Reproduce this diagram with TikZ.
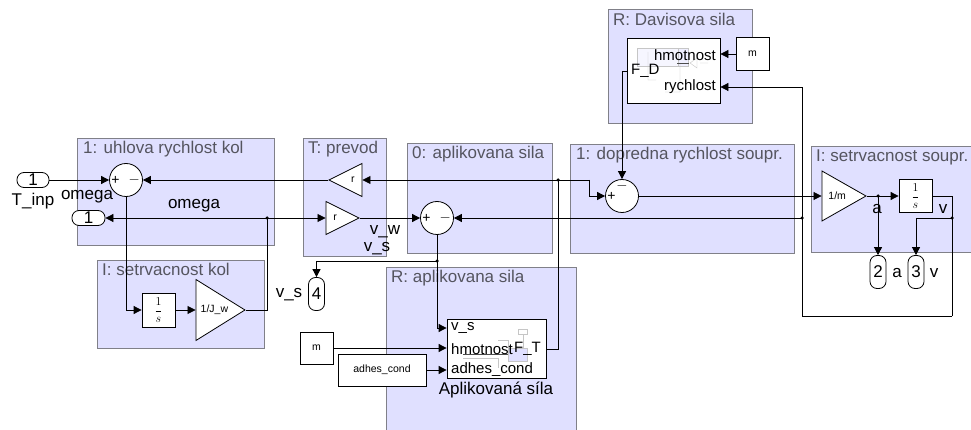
\documentclass[tikz,border=0pt]{standalone}
\usepackage{fontspec}
\setmainfont{Liberation Sans}
\usepackage{tikz}
\usetikzlibrary{arrows.meta,shapes.geometric,positioning,calc}
\definecolor{stateFill}{RGB}{224,224,255}
\definecolor{stateEdge}{RGB}{128,128,136}
\definecolor{titleGray}{RGB}{85,85,95}
\tikzset{
  sig/.style={-{Triangle[length=8pt,width=8pt]},line width=0.8pt},
  wire/.style={line width=0.8pt},
  chart/.style={draw=stateEdge,fill=stateFill,line width=0.8pt},
  chartname/.style={text=titleGray,font=\fontsize{17}{19}\selectfont,anchor=base west,inner sep=0pt},
  block/.style={draw,fill=white,line width=0.8pt,inner sep=0pt,font=\fontsize{10.5}{12}\selectfont},
  sumb/.style={draw,fill=white,circle,minimum size=33pt,inner sep=0pt,line width=0.8pt},
  gainb/.style={draw,fill=white,isosceles triangle,isosceles triangle stretches,inner sep=0pt,line width=0.8pt,font=\fontsize{10.5}{12}\selectfont},
  port/.style={draw,fill=white,rounded corners=7pt,inner sep=0pt,line width=0.8pt,font=\fontsize{17}{19}\selectfont},
  lab/.style={inner sep=0pt,font=\fontsize{17}{19}\selectfont},
  plab/.style={inner sep=0pt,font=\fontsize{15}{17}\selectfont},
  sgn/.style={inner sep=0pt,font=\fontsize{14}{16}\selectfont},
  thumb/.style={gray!45,line width=0.4pt},
  jdot/.style={fill,circle,inner sep=0pt,minimum size=3.5pt},
}
\begin{document}
\begin{tikzpicture}[x=1pt,y=-1pt]
\useasboundingbox (0,0) rectangle (971,430);
%Zustaende
\draw[chart] (77,138) rectangle (274,245);
\draw[chart] (97,260) rectangle (264,348);
\draw[chart] (303,138) rectangle (386,256);
\draw[chart] (407,143) rectangle (552,253);
\draw[chart] (570,144) rectangle (794,253);
\draw[chart] (811,146) rectangle (973,252);
\draw[chart] (608,9) rectangle (752,123);
\draw[chart] (386,267) rectangle (576,433);
\node[chartname] (nameKol) at (83,154) {1: uhlova rychlost kol};
\node[chartname] (nameSetKol) at (102,276) {I: setrvacnost kol};
\node[chartname] (namePrevod) at (308,154) {T: prevod};
\node[chartname] (nameApl) at (412,159) {0: aplikovana sila};
\node[chartname] (nameDop) at (576,160) {1: dopredna rychlost soupr.};
\node[chartname] (nameSetSoup) at (816,162) {I: setrvacnost soupr.};
\node[chartname] (nameDav) at (613,26) {R: Davisova sila};
\node[chartname] (nameRApl) at (391,283) {R: aplikovana sila};
%Bloecke
\node[port,minimum width=32pt,minimum height=15pt] (inTinp) at (33,180) {1};
\node[port,minimum width=33pt,minimum height=15pt] (outOmega) at (88.5,218) {1};
\node[port,minimum width=16pt,minimum height=33pt] (outVs) at (316.5,294) {4};
\node[port,minimum width=16pt,minimum height=33pt] (outA) at (878,272) {2};
\node[port,minimum width=16pt,minimum height=33pt] (outV) at (916,272) {3};
\node[sumb] (sumKol) at (126,180) {};
\node[sumb] (sumApl) at (437,218) {};
\node[sumb] (sumDop) at (622,196) {};
\node[block,minimum width=33pt,minimum height=34pt,font=\fontsize{12}{14}\selectfont] (intKol) at (158.5,310) {$\displaystyle\frac{1}{s}$};
\node[block,minimum width=33pt,minimum height=33pt,font=\fontsize{12}{14}\selectfont] (intSoup) at (915.5,196) {$\displaystyle\frac{1}{s}$};
\node[gainb,minimum height=49pt,minimum width=61pt,anchor=apex] (gainJw) at (246,310) {1/J\_w};
\node[gainb,minimum height=44pt,minimum width=50pt,anchor=apex] (gainM) at (867,196) {1/m};
\node[gainb,minimum height=33pt,minimum width=33pt,anchor=apex,shape border rotate=180] (gainRb) at (328,180) {r};
\node[gainb,minimum height=33pt,minimum width=33pt,anchor=apex] (gainRf) at (360,218) {r};
\node[block,minimum width=99pt,minimum height=59pt] (subApl) at (496.5,348.5) {};
\node[block,minimum width=93pt,minimum height=65pt] (subDav) at (673.5,70.5) {};
\node[block,minimum width=33pt,minimum height=32pt] (constM) at (316.5,348) {m};
\node[block,minimum width=88pt,minimum height=32pt] (constAd) at (382,370) {adhes\_cond};
\node[block,minimum width=33pt,minimum height=33pt] (constDav) at (752.5,54) {m};
%Vorschaubilder
\draw[thumb,fill=stateFill!50] (637,48) rectangle (688,66);
\draw[thumb,fill=stateFill!30] (637,48) rectangle (678,66);
\draw[thumb] (680,63) -- (680,92) -- (665,92) (690,63) -- (697,58) -- (697,68) -- cycle (700,63) -- (708,63) (648,52) -- (648,80) -- (656,80);
\draw[black!70,line width=0.6pt] (677,63) -- (689,63);
\draw[thumb,fill=stateFill] (508,348) rectangle (527,361);
\draw[thumb] (518,329) rectangle (527,334) (523,334) -- (523,348) (498,340) -- (508,340) -- (508,348) (463,358) -- (498,358) -- (498,368);
\draw[black!70,line width=0.6pt] (463,354) -- (508,354);
%Ports der Subsysteme
\node[plab,anchor=west] (pVs) at (451,328) {v\_s};
\node[plab,anchor=west] (pHm) at (451,349) {hmotnost};
\node[plab,anchor=west] (pAd) at (451,370) {adhes\_cond};
\node[plab,anchor=east] (pFt) at (541,349) {F\_T};
\node[plab,anchor=east] (pHmD) at (716,55) {hmotnost};
\node[plab,anchor=east] (pRy) at (716,87) {rychlost};
\node[plab,anchor=west] (pFd) at (631,71) {F\_D};
\node[lab] (nameSub) at (496,390) {Aplikovaná síla};
%Beschriftungen
\node[lab] (labTinp) at (33,201) {T\_inp};
\node[lab] (labOmA) at (87,197) {omega};
\node[lab] (labOmB) at (194,206) {omega};
\node[lab] (labVsA) at (289,295) {v\_s};
\node[lab] (labVw) at (385,232) {v\_w};
\node[lab] (labVsB) at (377,249) {v\_s};
\node[lab] (labA) at (877,209) {a};
\node[lab] (labV) at (943,209) {v};
\node[lab] (labOutA) at (897,273) {a};
\node[lab] (labOutV) at (934,273) {v};
%Vorzeichen
\node[sgn,right=2pt of sumKol.west] (sgnA) {+};
\node[sgn,left=3pt of sumKol.east] (sgnB) {$-$};
\node[sgn,right=2pt of sumApl.west] (sgnC) {+};
\node[sgn,left=3pt of sumApl.east] (sgnD) {$-$};
\node[sgn,right=2pt of sumDop.west] (sgnE) {+};
\node[sgn,below=2pt of sumDop.north] (sgnF) {$-$};
%Knotenpunkte
\node[jdot] (jOmega) at (267,218) {};
\node[jdot] (jFt) at (558,180) {};
\node[jdot] (jVs) at (437,261) {};
\node[jdot] (jRy) at (802,218) {};
\node[jdot] (jAcc) at (878,196) {};
\node[jdot] (jVel) at (952,218) {};
\coordinate (kDop) at (589,180);
\coordinate (kBack) at (952,316);
%Signale
\draw[sig] (inTinp) -- (sumKol);
\draw[sig] (jFt.center) -- (gainRb.east |- jFt.center);
\draw[sig] (gainRb.apex) -- (sumKol);
\draw[sig] (jOmega.center) -- (outOmega);
\draw[sig] (jOmega.center) -- (gainRf.west |- jOmega.center);
\draw[sig] (gainRf.apex) -- (sumApl);
\draw[sig] (jRy.center) -- (sumApl);
\draw[sig] (sumKol.south) |- (intKol.west);
\draw[sig] (intKol) -- (gainJw.west |- intKol);
\draw[wire] (gainJw.apex) -| (jOmega.center);
\draw[sig] (sumApl.south) |- (subApl.west |- pVs);
\draw[sig] (jVs.center) -| (outVs.north);
\draw[sig] (constM) -- (subApl.west |- constM);
\draw[sig] (constAd) -- (subApl.west |- constAd);
\draw[wire] (subApl.east |- pFt) -| (jFt.center);
\draw[wire] (jFt.center) -- (kDop);
\draw[sig] (kDop) |- (sumDop.west);
\draw[sig] (constDav) -- (subDav.east |- constDav);
\draw[sig] (subDav.west |- pFd) -| (sumDop.north);
\draw[sig] (sumDop.east) -- (gainM.west |- sumDop);
\draw[sig] (gainM.apex) -- (intSoup);
\draw[sig] (jAcc.center) -- (outA.north);
\draw[wire] (intSoup) -| (kBack);
\draw[wire] (kBack) -| (jRy.center);
\draw[sig] (jRy.center) |- (subDav.east |- pRy);
\draw[sig] (jVel.center) -| (outV.north);
\end{tikzpicture}
\end{document}
